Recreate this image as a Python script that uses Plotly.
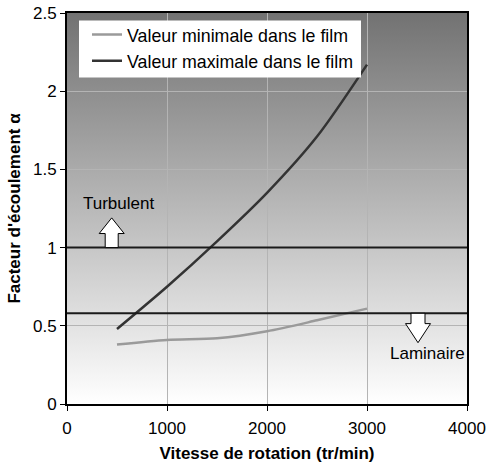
import base64
import plotly.graph_objects as go

# ---- data ----
speed = [500, 1000, 1500, 2000, 2500, 3000]
alpha_min = [0.38, 0.41, 0.42, 0.465, 0.535, 0.61]
alpha_max = [0.48, 0.75, 1.04, 1.35, 1.71, 2.17]
turbulent_threshold = 1.0
laminar_threshold = 0.58
x_ticks = [0, 1000, 2000, 3000, 4000]
y_ticks = [0, 0.5, 1, 1.5, 2, 2.5]

FONT = "Liberation Sans, Arial, sans-serif"

fig = go.Figure()
fig.add_trace(go.Scatter(x=speed, y=alpha_min, mode="lines", name="Valeur minimale dans le film",
                         line=dict(color="#9a9a9a", width=2.5, shape="spline", smoothing=0.8),
                         legendgroup="a"))
fig.add_trace(go.Scatter(x=speed, y=alpha_max, mode="lines", name="Valeur maximale dans le film",
                         line=dict(color="#333333", width=2.5, shape="spline", smoothing=0.8),
                         legendgroup="b"))

# gradient background as an inline SVG image
svg = ('<svg xmlns="http://www.w3.org/2000/svg" width="10" height="100" preserveAspectRatio="none">'
       '<defs><linearGradient id="g" x1="0" y1="0" x2="0" y2="1">'
       '<stop offset="0" stop-color="#727272"/><stop offset="1" stop-color="#ffffff"/>'
       '</linearGradient></defs><rect width="10" height="100" fill="url(#g)"/></svg>')
src = "data:image/svg+xml;base64," + base64.b64encode(svg.encode()).decode()
fig.add_layout_image(dict(source=src, xref="paper", yref="paper", x=0, y=1, sizex=1, sizey=1,
                          xanchor="left", yanchor="top", sizing="stretch", layer="below"))

shapes = []
for thr in (turbulent_threshold, laminar_threshold):
    shapes.append(dict(type="line", xref="paper", x0=0, x1=1, yref="y", y0=thr, y1=thr,
                       line=dict(color="#1a1a1a", width=2)))


def arrow(cx, y0, y1, y2, shaft_hw, head_hw):
    # y0: base of shaft, y1: base of head, y2: tip
    pts = [(cx - shaft_hw, y0), (cx - shaft_hw, y1), (cx - head_hw, y1), (cx, y2),
           (cx + head_hw, y1), (cx + shaft_hw, y1), (cx + shaft_hw, y0)]
    p = "M " + " L ".join(f"{x},{y}" for x, y in pts) + " Z"
    return dict(type="path", path=p, xref="x", yref="y", fillcolor="white",
                line=dict(color="black", width=1))


shapes.append(arrow(447, turbulent_threshold, 1.09, 1.19, 65, 125))
shapes.append(arrow(3510, laminar_threshold, 0.514, 0.392, 70, 125))

# white legend box
shapes.append(dict(type="rect", xref="paper", yref="paper", x0=0.03, x1=0.735, y0=0.835, y1=0.981,
                   fillcolor="white", line=dict(width=0)))

fig.update_layout(
    width=488, height=463,
    margin=dict(l=67, r=21, t=13, b=59, autoexpand=False),
    paper_bgcolor="white", plot_bgcolor="rgba(0,0,0,0)",
    font=dict(family=FONT, size=17, color="black"),
    shapes=shapes,
    showlegend=True,
    legend=dict(x=0.05, y=0.991, xanchor="left", yanchor="top", bgcolor="rgba(0,0,0,0)",
                borderwidth=0, font=dict(size=17.8, family=FONT), itemwidth=30,
                tracegroupgap=1, traceorder="normal"),
    annotations=[
        dict(x=515, y=1.285, xref="x", yref="y", text="Turbulent", showarrow=False,
             font=dict(size=17, family=FONT)),
        dict(x=3605, y=0.32, xref="x", yref="y", text="Laminaire", showarrow=False,
             font=dict(size=17, family=FONT)),
    ],
)
fig.update_xaxes(range=[0, 4000], tickvals=x_ticks, ticks="outside", ticklen=5, tickcolor="black",
                 showline=True, linewidth=2, linecolor="black", mirror=True, automargin=True,
                 showgrid=True, gridcolor="#b4b4b4", gridwidth=1, zeroline=False,
                 ticklabelstandoff=3,
                 title=dict(text="<b>Vitesse de rotation (tr/min)</b>", standoff=10,
                            font=dict(size=17, family=FONT)),
                 tickfont=dict(size=17, family=FONT))
fig.update_yaxes(range=[0, 2.5], tickvals=y_ticks, ticks="outside", ticklen=5, tickcolor="black",
                 showline=True, linewidth=2, linecolor="black", mirror=True, automargin=True,
                 showgrid=True, gridcolor="#b4b4b4", gridwidth=1, zeroline=False,
                 title=dict(text="<b>Facteur d'écoulement α</b>", standoff=8,
                            font=dict(size=17, family=FONT)),
                 tickfont=dict(size=17, family=FONT))

fig.write_html("out.html", config={"displayModeBar": False},
               post_script="document.body.style.margin='0';")
